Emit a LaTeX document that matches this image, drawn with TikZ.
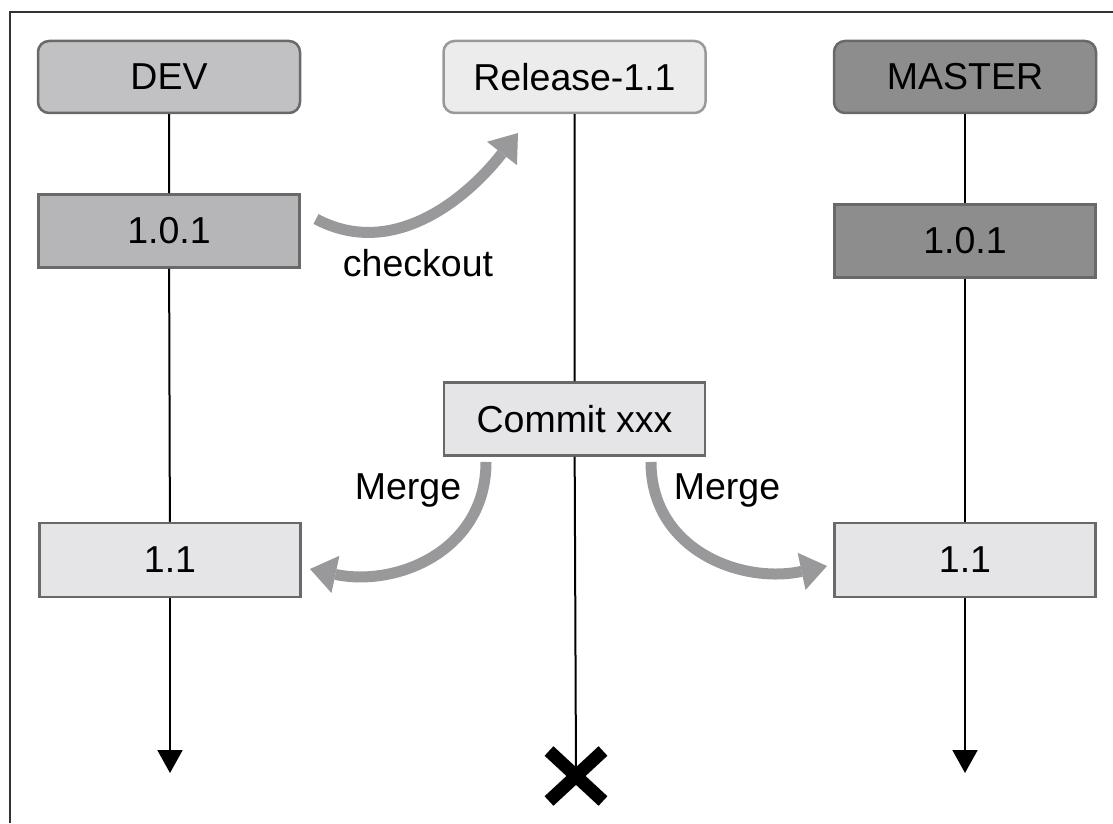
\documentclass[tikz,border=0pt]{standalone}
\usepackage{fontspec}
\setmainfont{Liberation Sans}
\usetikzlibrary{positioning,arrows.meta,calc}

\definecolor{devgray}{RGB}{193,193,195}
\definecolor{devver}{RGB}{182,182,184}
\definecolor{relgray}{RGB}{236,236,236}
\definecolor{masgray}{RGB}{141,141,141}
\definecolor{lightbox}{RGB}{229,229,231}
\definecolor{boxline}{RGB}{105,105,105}
\definecolor{arrowgray}{RGB}{153,153,155}

\begin{document}
\begin{tikzpicture}[x=1pt,y=1pt,
      branch/.style = {draw=boxline, line width=2.5pt, rounded corners=11pt,
         minimum width=262pt, minimum height=72pt, inner sep=0pt,
         font=\fontsize{37.5}{40}\selectfont},
      version/.style = {draw=boxline, line width=2.5pt,
         minimum width=261pt, minimum height=73pt, inner sep=0pt,
         font=\fontsize{37.5}{40}\selectfont},
      flow/.style = {line width=2pt, -{Triangle[width=25pt,length=23pt]}},
      bendarrow/.style = {draw=arrowgray, line width=11pt,
         -{Triangle[width=38pt,length=26pt,line width=0pt]}},
      lbl/.style = {font=\fontsize{37.5}{40}\selectfont}]

   \useasboundingbox (0,0) rectangle (1113,823);

   % frame (only top and left edges show)
   \draw[line width=2.5pt, black!80] (10,0) -- (10,811) -- (1113,811);

   % branch heads
   \node[branch, fill=devgray]                    (dev) at (169,746)   {DEV};
   \node[branch, fill=relgray, draw=black!40]     (rel) at (574.5,746) {Release-1.1};
   \node[branch, fill=masgray]                    (mas) at (965,746)   {MASTER};

   % versions
   \node[version, fill=devver, below=79pt of dev]   (dev101) {1.0.1};
   \node[version, fill=masgray, below=89pt of mas]  (mas101) {1.0.1};
   \node[version, fill=lightbox, below=267pt of rel] (commit) {Commit xxx};
   \node[version, fill=lightbox, minimum height=74pt] (dev11) at (170,263) {1.1};
   \node[version, fill=lightbox, minimum height=74pt] (mas11) at (965,263) {1.1};

   % branch ends
   \coordinate (devend) at (170,50);
   \coordinate (masend) at (965,50);
   \coordinate (relend) at (576,47);

   % branch lines
   \draw[line width=2pt] (dev) -- (dev101) -- (dev11);
   \draw[flow] (dev11) -- (devend);
   \draw[line width=2pt] (mas) -- (mas101) -- (mas11);
   \draw[flow] (mas11) -- (masend);
   \draw[line width=2pt] (rel) -- (commit) -- (relend);

   % deleted branch
   \draw[line width=13pt] ($(relend)+(-27,-25)$) -- ($(relend)+(27,25)$)
      ($(relend)+(-27,25)$) -- ($(relend)+(27,-25)$);

   % checkout
   \coordinate (co0) at (316,604);
   \coordinate (co1) at (518,690);
   \draw[bendarrow] (co0) to[out=-28,in=-128] (co1);
   \node[lbl] (colbl) at (418,560) {checkout};

   % merges
   \coordinate (ml0) at (486,361);
   \coordinate (ml1) at (310,254);
   \draw[bendarrow] (ml0) to[out=-90,in=-12,looseness=1.1] (ml1);
   \node[lbl] (mllbl) at (408,333) {Merge};

   \coordinate (mr0) at (651,361);
   \coordinate (mr1) at (827,257);
   \draw[bendarrow] (mr0) to[out=-90,in=-168,looseness=1.1] (mr1);
   \node[lbl] (mrlbl) at (727,333) {Merge};
\end{tikzpicture}
\end{document}
